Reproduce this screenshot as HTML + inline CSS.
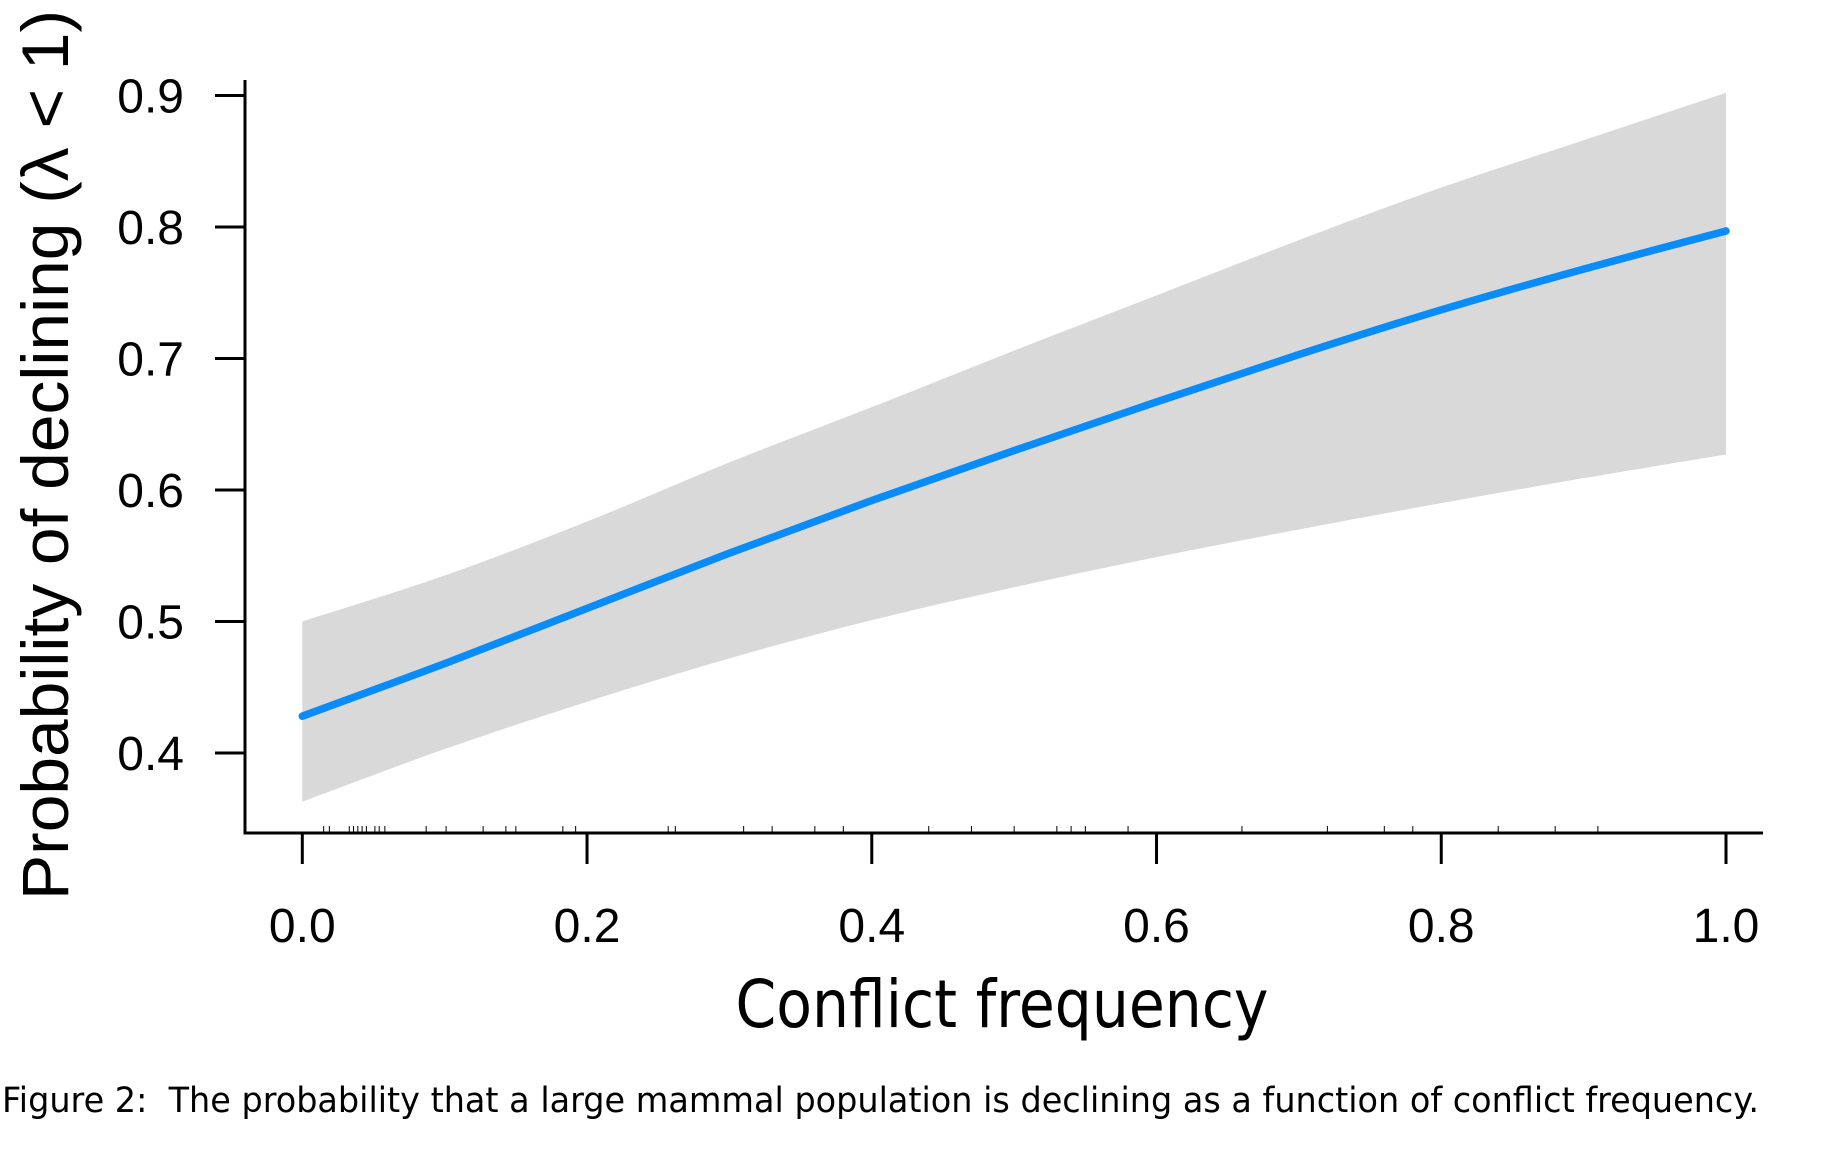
<!DOCTYPE html>
<html><head><meta charset="utf-8"><style>
html,body{margin:0;padding:0;background:#fff;}
svg{display:block;}
</style></head>
<body>
<svg id="chart" width="1834" height="1160" viewBox="0 0 1834 1160" xmlns="http://www.w3.org/2000/svg">
<g id="plot"></g>
<text x="1002" y="1027" text-anchor="middle" font-family="DejaVu Sans, sans-serif" font-size="66" textLength="533" lengthAdjust="spacingAndGlyphs">Conflict frequency</text>
<text transform="translate(68,455) rotate(-90)" text-anchor="middle" font-family="Liberation Sans, sans-serif" font-size="66" textLength="890" lengthAdjust="spacingAndGlyphs">Probability of declining (λ &lt; 1)</text>
<text x="2" y="1112" font-family="DejaVu Sans, sans-serif" font-size="35" textLength="1757" lengthAdjust="spacingAndGlyphs" xml:space="preserve">Figure 2:  The probability that a large mammal population is declining as a function of conflict frequency.</text>
</svg>
<script>
const xValues = [0,0.1,0.2,0.3,0.4,0.5,0.6,0.7,0.8,0.9,1.0];
const fitValues = [0.428,0.468,0.510,0.552,0.592,0.630,0.667,0.703,0.737,0.768,0.797];
const upperValues = [0.500,0.535,0.576,0.621,0.663,0.706,0.748,0.790,0.830,0.866,0.902];
const lowerValues = [0.363,0.403,0.439,0.472,0.501,0.526,0.549,0.570,0.590,0.609,0.627];
const rugValues = [0.015,0.019,0.033,0.036,0.039,0.042,0.045,0.051,0.054,0.058,0.087,0.101,0.127,0.143,0.150,0.183,0.192,0.257,0.262,0.31,0.33,0.36,0.38,0.44,0.47,0.5,0.53,0.54,0.55,0.58,0.66,0.72,0.76,0.78,0.84,0.88,0.91];
const xTicks = [0,0.2,0.4,0.6,0.8,1.0];
const xTickLabels = ["0.0","0.2","0.4","0.6","0.8","1.0"];
const yTicks = [0.4,0.5,0.6,0.7,0.8,0.9];
const yTickLabels = ["0.4","0.5","0.6","0.7","0.8","0.9"];

const NS = "http://www.w3.org/2000/svg";
const X0 = 302.3, X1 = 1726;
const sx = v => X0 + v * (X1 - X0);
const sy = v => 95.5 + (0.9 - v) * 1315;
const g = document.getElementById('plot');
function mk(tag, attrs){ const e = document.createElementNS(NS, tag); for (const k in attrs) e.setAttribute(k, attrs[k]); g.appendChild(e); return e; }
function smooth(pts){
  let d = "M" + pts[0][0] + "," + pts[0][1];
  for (let i = 0; i < pts.length - 1; i++) {
    const p0 = pts[Math.max(i-1,0)], p1 = pts[i], p2 = pts[i+1], p3 = pts[Math.min(i+2,pts.length-1)];
    const c1x = p1[0] + (p2[0]-p0[0])/6, c1y = p1[1] + (p2[1]-p0[1])/6;
    const c2x = p2[0] - (p3[0]-p1[0])/6, c2y = p2[1] - (p3[1]-p1[1])/6;
    d += " C" + c1x + "," + c1y + " " + c2x + "," + c2y + " " + p2[0] + "," + p2[1];
  }
  return d;
}
const up = xValues.map((x,i)=>[sx(x), sy(upperValues[i])]);
const lo = xValues.map((x,i)=>[sx(x), sy(lowerValues[i])]).reverse();
let bandD = smooth(up) + " L" + lo[0][0] + "," + lo[0][1] + smooth(lo).replace(/^M[^C]*/, " ") + " Z";
const band = mk('path', {d: bandD, fill: '#d9d9d9', stroke: 'none'});


const line = mk('path', {d: smooth(xValues.map((x,i)=>[sx(x), sy(fitValues[i])])), fill: 'none', stroke: '#0a8cf8', 'stroke-width': 7.5, 'stroke-linecap': 'round'});



const xAxis = mk('line', {x1: 244, y1: 833, x2: 1763, y2: 833, stroke: '#000', 'stroke-width': 3});


const yAxis = mk('line', {x1: 245, y1: 80, x2: 245, y2: 834.5, stroke: '#000', 'stroke-width': 3});



rugValues.forEach(v => {
  const r = mk('line', {x1: sx(v), y1: 826, x2: sx(v), y2: 833, stroke: '#000', 'stroke-width': 1});
  
  
});
xTicks.forEach((v,i) => {
  const t = mk('line', {x1: sx(v), y1: 833, x2: sx(v), y2: 864, stroke: '#000', 'stroke-width': 3});
  
  
  const l = mk('text', {x: sx(v), y: 942, 'text-anchor': 'middle', 'font-family': 'Liberation Sans, sans-serif', 'font-size': 48});
  l.textContent = xTickLabels[i];
  
  
});
yTicks.forEach((v,i) => {
  const t = mk('line', {x1: 215, y1: sy(v), x2: 245, y2: sy(v), stroke: '#000', 'stroke-width': 3});
  
  
  const l = mk('text', {x: 184, y: sy(v) + 17, 'text-anchor': 'end', 'font-family': 'Liberation Sans, sans-serif', 'font-size': 48});
  l.textContent = yTickLabels[i];
  
  
});
</script>
</body></html>
